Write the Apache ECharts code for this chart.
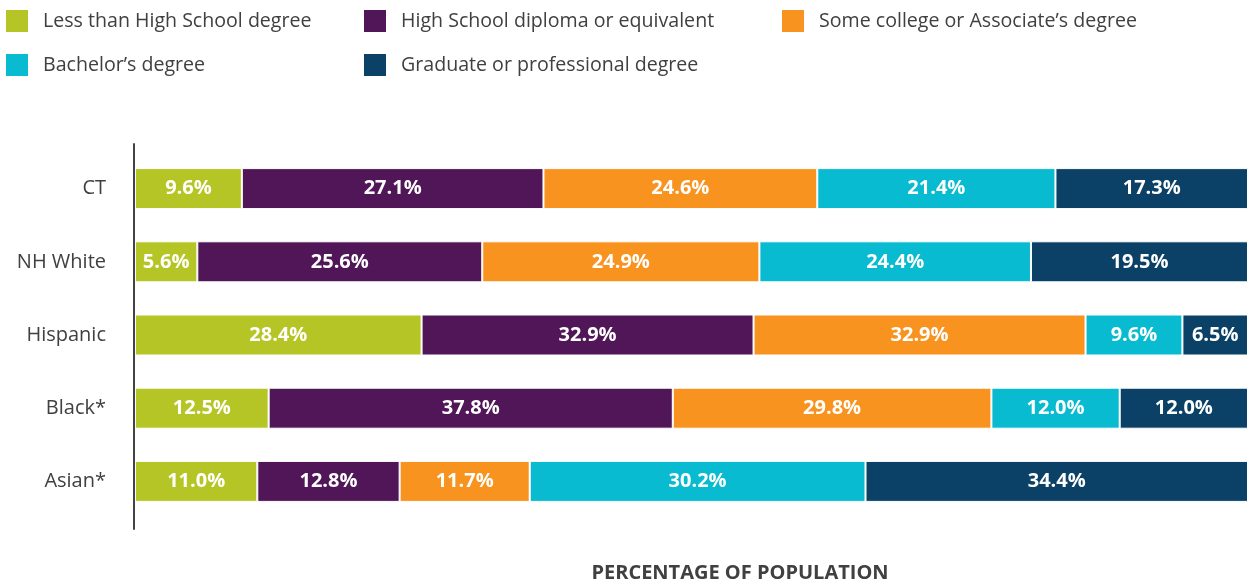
<!DOCTYPE html>
<html>
<head>
<meta charset="utf-8">
<script src="https://cdn.jsdelivr.net/npm/echarts@6/dist/echarts.min.js"></script>
<style>
  html, body { margin: 0; padding: 0; background: #ffffff; }
  #chart { width: 1248px; height: 582px; }
</style>
</head>
<body>
<div id="chart"></div>
<script>
// Educational attainment by group (share of population, %)
const groups = ['CT', 'NH White', 'Hispanic', 'Black*', 'Asian*'];

const levels = [
  'Less than High School degree',
  'High School diploma or equivalent',
  'Some college or Associate\u2019s degree',
  'Bachelor\u2019s degree',
  'Graduate or professional degree'
];

// one array per attainment level, in the order of `groups`
const lessThanHS   = [9.6, 5.6, 28.4, 12.5, 11.0];
const highSchool   = [27.1, 25.6, 32.9, 37.8, 12.8];
const someCollege  = [24.6, 24.9, 32.9, 29.8, 11.7];
const bachelors    = [21.4, 24.4, 9.6, 12.0, 30.2];
const graduate     = [17.3, 19.5, 6.5, 12.0, 34.4];

const levelColors = ['#b6c526', '#501657', '#f7931e', '#08bbd0', '#0b4166'];
const axisTitle = 'PERCENTAGE OF POPULATION';

const levelValues = [lessThanHS, highSchool, someCollege, bachelors, graduate];

// each group's bar fills the full width: its own value axis runs to the group's total
const rowTotals = groups.map((g, r) =>
  levelValues.reduce((s, arr) => s + arr[r], 0));

const FONT = '"Open Sans", "Noto Sans", sans-serif';
const TEXT = '#404040';

const xAxes = groups.map((g, r) => ({
  type: 'value', gridIndex: 0, min: 0, max: rowTotals[r], show: false
}));
// hidden x axis for the axis-line grid
xAxes.push({ type: 'value', gridIndex: 1, show: false });

const series = [];
groups.forEach((g, r) => {
  levelValues.forEach((arr, c) => {
    series.push({
      type: 'bar',
      name: levels[c],
      xAxisIndex: r,
      yAxisIndex: 0,
      stack: 'row' + r,
      barWidth: 41,
      barGap: '-100%',
      itemStyle: { color: levelColors[c], borderColor: '#ffffff', borderWidth: 1 },
      label: {
        show: true,
        position: 'inside',
        color: '#ffffff',
        fontFamily: FONT,
        fontWeight: 'bold',
        fontSize: 20,
        formatter: p => p.value.toFixed(1) + '%'
      },
      emphasis: { disabled: true },
      data: groups.map((_, k) => (k === r ? arr[k] : '-'))
    });
  });
});

const legendBase = {
  orient: 'vertical',
  top: 10,
  padding: 0,
  itemWidth: 22,
  itemHeight: 22,
  itemGap: 22,
  icon: 'rect',
  selectedMode: false,
  itemStyle: { borderWidth: 0 },
  textStyle: { fontFamily: FONT, fontSize: 19.6, color: TEXT, padding: [0, 0, 0, 10] }
};

const option = {
  animation: false,
  backgroundColor: '#ffffff',
  textStyle: { fontFamily: FONT },
  legend: [
    Object.assign({}, legendBase, { left: 6, data: [levels[0], levels[3]] }),
    Object.assign({}, legendBase, { left: 364, data: [levels[1], levels[4]] }),
    Object.assign({}, legendBase, { left: 782, data: [levels[2]] })
  ],
  title: {
    text: axisTitle,
    left: 740,
    textAlign: 'center',
    top: 563,
    padding: 0,
    textStyle: { fontFamily: FONT, fontSize: 20, fontWeight: 'bold', color: TEXT }
  },
  grid: [
    { left: 135, right: 0, top: 152, height: 366 },
    { left: 134, width: 10, top: 144, bottom: 53 }
  ],
  xAxis: xAxes,
  yAxis: [
    {
      type: 'category',
      gridIndex: 0,
      data: groups,
      inverse: true,
      axisLine: { show: false },
      axisTick: { show: false },
      axisLabel: { margin: 29, fontFamily: FONT, fontSize: 20, color: TEXT }
    },
    {
      type: 'value',
      gridIndex: 1,
      axisLine: { show: true, lineStyle: { color: '#444444', width: 2 } },
      axisTick: { show: false },
      axisLabel: { show: false },
      splitLine: { show: false }
    }
  ],
  series: series
};

const chart = echarts.init(document.getElementById('chart'), null, { renderer: 'canvas' });
chart.setOption(option);
</script>
</body>
</html>
